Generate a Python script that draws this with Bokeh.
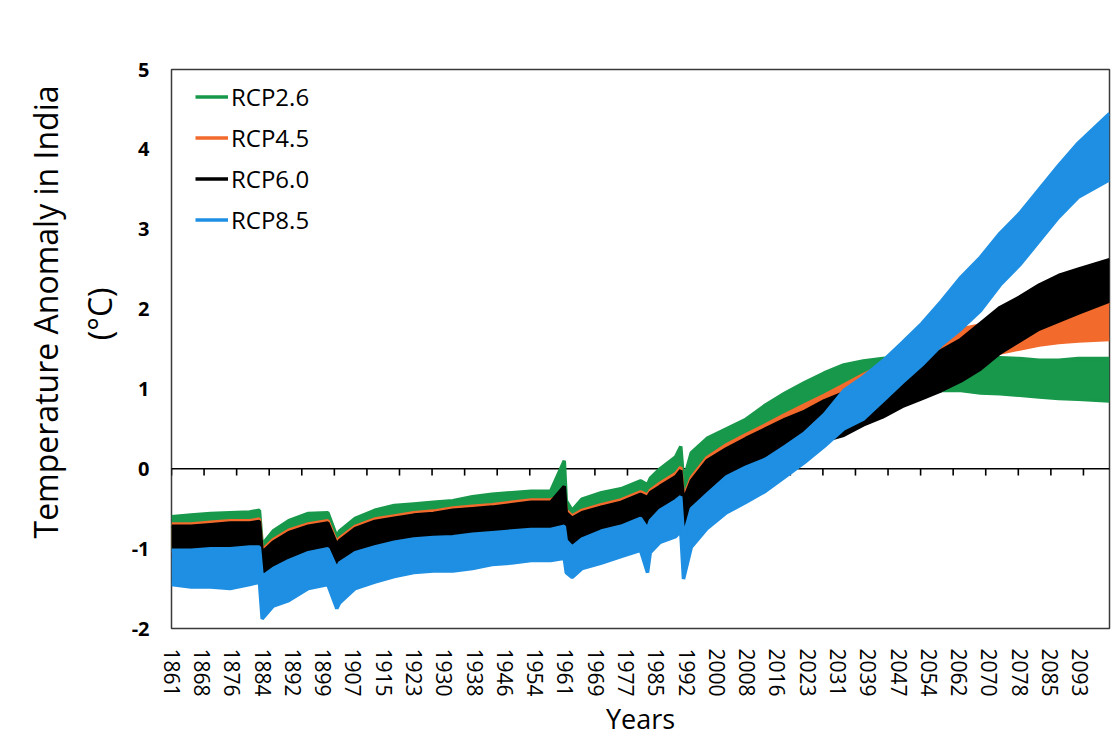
import math
from bokeh.plotting import figure
from bokeh.models import Range1d, FixedTicker, Span, Legend, LegendItem, ColumnDataSource, Title
from bokeh.embed import file_html
from bokeh.resources import INLINE

# ---------------- data ----------------
series_names = ["RCP2.6", "RCP4.5", "RCP6.0", "RCP8.5"]
series_colors = ["#17984b", "#f26a2c", "#000000", "#1e8fe3"]

years = [1861, 1866, 1871, 1876, 1881, 1883.5, 1884.2, 1887, 1891, 1896,
         1901, 1903.3, 1904, 1908, 1913, 1918, 1923, 1928, 1933, 1938,
         1943, 1948, 1953, 1958, 1961.5, 1962, 1963.5, 1966, 1971, 1976,
         1981, 1982.8, 1983.5, 1986, 1990, 1991.3, 1992, 1994, 1998, 2003,
         2008, 2013, 2018, 2023, 2028, 2033, 2038, 2043, 2048, 2053,
         2058, 2063, 2068, 2073, 2078, 2083, 2088, 2093, 2101]

rcp26_low = [-1.00, -1.00, -0.98, -0.98, -0.98, -0.96, -1.30, -1.18, -1.08, -1.00,
             -0.95, -1.20, -1.15, -1.00, -0.92, -0.88, -0.85, -0.82, -0.80, -0.78,
             -0.75, -0.72, -0.70, -0.70, -0.65, -0.85, -0.90, -0.82, -0.75, -0.70,
             -0.62, -0.68, -0.60, -0.50, -0.42, -0.32, -0.70, -0.45, -0.20, -0.05,
             0.10, 0.22, 0.35, 0.45, 0.55, 0.65, 0.75, 0.85, 0.90, 0.95,
             0.98, 0.98, 0.95, 0.94, 0.92, 0.90, 0.88, 0.87, 0.85]
rcp26_high = [-0.60, -0.58, -0.56, -0.55, -0.54, -0.52, -0.95, -0.78, -0.65, -0.56,
              -0.55, -0.85, -0.78, -0.62, -0.52, -0.46, -0.44, -0.42, -0.40, -0.35,
              -0.32, -0.30, -0.28, -0.28, 0.10, -0.40, -0.52, -0.38, -0.30, -0.25,
              -0.15, -0.20, -0.12, 0.00, 0.15, 0.28, -0.15, 0.20, 0.38, 0.50,
              0.62, 0.80, 0.95, 1.08, 1.20, 1.30, 1.35, 1.38, 1.40, 1.42,
              1.42, 1.42, 1.40, 1.39, 1.38, 1.36, 1.36, 1.38, 1.38]

rcp45_low = [-1.10, -1.10, -1.08, -1.08, -1.08, -1.05, -1.40, -1.28, -1.18, -1.10,
             -1.05, -1.28, -1.25, -1.10, -1.02, -0.98, -0.95, -0.92, -0.90, -0.88,
             -0.86, -0.82, -0.80, -0.80, -0.78, -0.95, -0.98, -0.92, -0.86, -0.80,
             -0.72, -0.78, -0.72, -0.62, -0.55, -0.45, -0.82, -0.60, -0.35, -0.18,
             -0.02, 0.08, 0.18, 0.30, 0.40, 0.50, 0.62, 0.75, 0.88, 1.00,
             1.10, 1.22, 1.35, 1.45, 1.50, 1.55, 1.58, 1.60, 1.62]
rcp45_high = [-0.69, -0.69, -0.67, -0.65, -0.65, -0.63, -1.02, -0.89, -0.77, -0.69,
              -0.65, -0.92, -0.87, -0.72, -0.63, -0.59, -0.55, -0.53, -0.49, -0.47,
              -0.45, -0.42, -0.39, -0.39, -0.32, -0.52, -0.59, -0.52, -0.45, -0.39,
              -0.29, -0.33, -0.27, -0.18, -0.06, 0.02, -0.36, -0.11, 0.14, 0.30,
              0.43, 0.55, 0.68, 0.80, 0.92, 1.05, 1.18, 1.30, 1.40, 1.55,
              1.65, 1.75, 1.80, 1.85, 1.92, 1.98, 2.02, 2.05, 2.08]

rcp60_low = [-1.10, -1.10, -1.08, -1.08, -1.08, -1.05, -1.40, -1.28, -1.18, -1.10,
             -1.05, -1.28, -1.25, -1.10, -1.02, -0.98, -0.95, -0.92, -0.90, -0.88,
             -0.86, -0.82, -0.80, -0.80, -0.78, -0.95, -0.98, -0.92, -0.86, -0.80,
             -0.72, -0.78, -0.72, -0.62, -0.55, -0.45, -0.82, -0.60, -0.35, -0.20,
             -0.05, 0.05, 0.15, 0.28, 0.35, 0.42, 0.55, 0.65, 0.78, 0.88,
             0.98, 1.10, 1.25, 1.45, 1.60, 1.75, 1.85, 1.95, 2.10]
rcp60_high = [-0.72, -0.72, -0.70, -0.68, -0.68, -0.66, -1.05, -0.92, -0.80, -0.72,
              -0.68, -0.95, -0.90, -0.75, -0.66, -0.62, -0.58, -0.56, -0.52, -0.50,
              -0.48, -0.45, -0.42, -0.42, -0.22, -0.55, -0.62, -0.55, -0.48, -0.42,
              -0.32, -0.36, -0.30, -0.22, -0.10, -0.02, -0.40, -0.15, 0.10, 0.25,
              0.38, 0.50, 0.62, 0.72, 0.85, 0.95, 1.05, 1.15, 1.25, 1.38,
              1.48, 1.62, 1.82, 2.02, 2.15, 2.30, 2.42, 2.50, 2.62]

rcp85_low = [-1.45, -1.48, -1.48, -1.50, -1.45, -1.42, -1.88, -1.72, -1.65, -1.50,
             -1.45, -1.75, -1.68, -1.50, -1.42, -1.35, -1.30, -1.28, -1.28, -1.25,
             -1.20, -1.18, -1.15, -1.15, -1.12, -1.30, -1.36, -1.25, -1.18, -1.10,
             -1.02, -1.30, -1.05, -0.92, -0.85, -0.78, -1.38, -0.98, -0.75, -0.55,
             -0.42, -0.28, -0.10, 0.08, 0.28, 0.50, 0.62, 0.85, 1.08, 1.30,
             1.55, 1.75, 1.98, 2.30, 2.55, 2.85, 3.15, 3.40, 3.62]
rcp85_high = [-1.02, -1.02, -1.00, -1.00, -0.98, -0.98, -1.35, -1.25, -1.15, -1.05,
              -1.00, -1.25, -1.18, -1.05, -0.98, -0.92, -0.88, -0.86, -0.85, -0.82,
              -0.80, -0.78, -0.76, -0.76, -0.72, -0.90, -0.98, -0.88, -0.78, -0.72,
              -0.62, -0.75, -0.65, -0.52, -0.40, -0.35, -0.85, -0.50, -0.32, -0.10,
              0.02, 0.12, 0.28, 0.45, 0.68, 0.98, 1.15, 1.35, 1.58, 1.82,
              2.10, 2.40, 2.65, 2.95, 3.20, 3.50, 3.80, 4.08, 4.45]

x_tick_labels = ["1861", "1868", "1876", "1884", "1892", "1899", "1907", "1915",
                 "1923", "1930", "1938", "1946", "1954", "1961", "1969", "1977",
                 "1985", "1992", "2000", "2008", "2016", "2023", "2031", "2039",
                 "2047", "2054", "2062", "2070", "2078", "2085", "2093"]
y_ticks = [-2, -1, 0, 1, 2, 3, 4, 5]
y_tick_labels = ["-2", "-1", "0", "1", "2", "3", "4", "5"]
y_title_main = "Temperature Anomaly in India"
y_title_unit = "(\u00b0C)"
x_title = "Years"

START_YEAR = 1861
N_MONTHS = 2880            # monthly series, Jan 1861 .. Dec 2100 (category axis)
LABEL_EVERY = 93           # a label every 93 months
TICKMARK_EVERY = 100       # tick marks on the zero line every 100 months
Y_MIN, Y_MAX = -2, 5

FONT = "Open Sans"

# ---------------- layout ----------------
LEFT, TOP, FRAME_W, FRAME_H, RIGHT, BOTTOM = 171, 69, 938, 559, 3, 105


def to_month(y):
    return (y - START_YEAR) * 12 - 0.5


months = [to_month(y) for y in years]

p = figure(frame_width=FRAME_W, frame_height=FRAME_H,
           x_range=Range1d(-0.5, N_MONTHS - 0.5), y_range=Range1d(Y_MIN, Y_MAX),
           output_backend="svg", toolbar_location=None,
           min_border_left=LEFT, min_border_right=RIGHT,
           min_border_top=TOP, min_border_bottom=BOTTOM)

p.background_fill_color = "white"
p.border_fill_color = "white"
p.outline_line_color = "#3a3a3a"
p.outline_line_width = 1.5
p.xgrid.visible = False
p.ygrid.visible = False

# zero line with its tick marks (Excel-style crossing axis)
zero = Span(location=0, dimension="width", line_color="black", line_width=1.6, level="underlay")
p.add_layout(zero)
tick_pos = [k * TICKMARK_EVERY - 0.5 for k in range(N_MONTHS // TICKMARK_EVERY + 1)]
p.segment(x0=tick_pos, x1=tick_pos, y0=[0] * len(tick_pos), y1=[-0.085] * len(tick_pos),
          line_color="black", line_width=1.6)

lows = [rcp26_low, rcp45_low, rcp60_low, rcp85_low]
highs = [rcp26_high, rcp45_high, rcp60_high, rcp85_high]
legend_items = []
for name, color, lo, hi in zip(series_names, series_colors, lows, highs):
    src = ColumnDataSource(dict(x=months, lo=lo, hi=hi))
    p.varea(x="x", y1="lo", y2="hi", source=src, fill_color=color)
    p.line(x="x", y="lo", source=src, line_color=color, line_width=3.5)
    key = p.line(x="x", y="hi", source=src, line_color=color, line_width=3.5)
    legend_items.append(LegendItem(label=name, renderers=[key]))

legend = Legend(items=legend_items, location=(24, 392), orientation="vertical",
                border_line_color=None, background_fill_alpha=0,
                label_text_font=FONT, label_text_font_size="24px", label_text_color="black",
                glyph_width=33, glyph_height=33, label_height=33, label_standoff=3,
                spacing=8, padding=0, margin=0)
p.add_layout(legend)

# x axis (labels at the bottom)
xa = p.xaxis[0]
xa.ticker = FixedTicker(ticks=[k * LABEL_EVERY for k in range(len(x_tick_labels))])
xa.major_label_overrides = {k * LABEL_EVERY: lab for k, lab in enumerate(x_tick_labels)}
xa.major_label_orientation = "vertical"
xa.major_label_text_font = FONT
xa.major_label_text_font_size = "21px"
xa.major_label_text_color = "black"
xa.major_label_standoff = 14
xa.axis_line_color = None
xa.major_tick_line_color = None
xa.minor_tick_line_color = None
xa.axis_label = x_title
xa.axis_label_text_font = FONT
xa.axis_label_text_font_size = "27px"
xa.axis_label_text_font_style = "normal"
xa.axis_label_text_color = "black"
xa.axis_label_standoff = 0

# y axis
ya = p.yaxis[0]
ya.ticker = FixedTicker(ticks=y_ticks)
ya.major_label_overrides = dict(zip(y_ticks, y_tick_labels))
ya.major_label_text_font = FONT
ya.major_label_text_font_size = "20px"
ya.major_label_text_font_style = "bold"
ya.major_label_text_color = "black"
ya.major_label_standoff = 16
ya.axis_line_color = None
ya.major_tick_line_color = None
ya.minor_tick_line_color = None

# y title: two left-side titles (the unit line is closer to the axis)
unit_title = Title(text=y_title_unit, align="right", offset=218, standoff=16,
                   text_font=FONT, text_font_size="32px", text_font_style="normal",
                   text_color="black")
main_title = Title(text=y_title_main, align="right", offset=16, standoff=2,
                   text_font=FONT, text_font_size="32px", text_font_style="normal",
                   text_color="black")
p.add_layout(unit_title, "left")
p.add_layout(main_title, "left")

open("out.html", "w").write(file_html(p, INLINE))
